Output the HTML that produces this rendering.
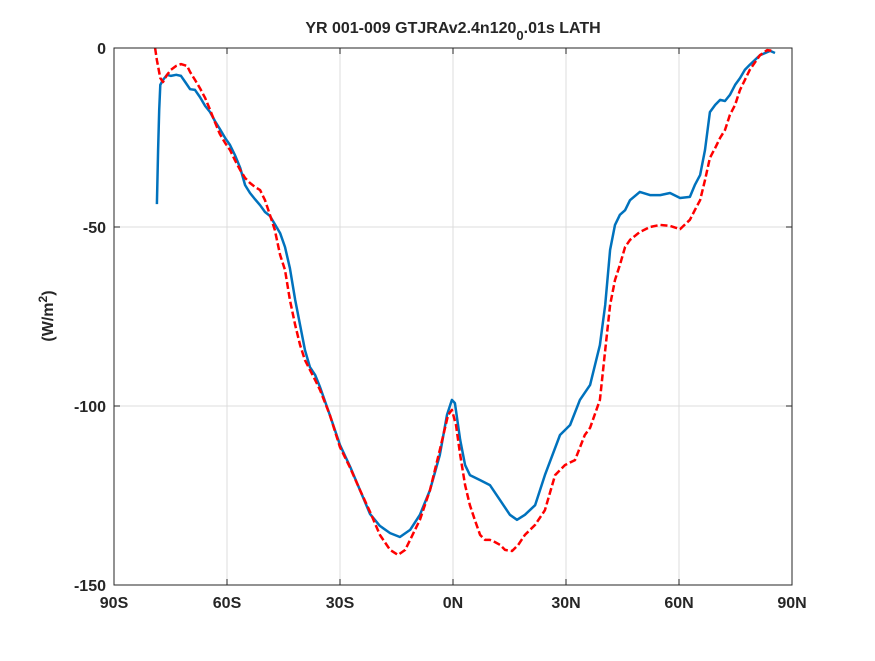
<!DOCTYPE html>
<html><head><meta charset="utf-8"><style>
body{margin:0;background:#fff;}
svg text{font-family:"Liberation Sans",sans-serif;font-weight:bold;fill:#262626;}
</style></head><body>
<svg width="875" height="656" viewBox="0 0 875 656" xmlns="http://www.w3.org/2000/svg">
<rect width="875" height="656" fill="#fff"/>
<g id="grid"></g>
<g id="series"></g>
<rect x="114" y="48" width="678" height="537" fill="none" stroke="#262626" stroke-width="1"/>
<g id="ticks"></g>
<text x="453" y="33" text-anchor="middle" font-size="16">YR 001-009 GTJRAv2.4n120<tspan dy="7" font-size="13">0</tspan><tspan dy="-7">.01s LATH</tspan></text>
<text transform="translate(53,316) rotate(-90)" text-anchor="middle" font-size="16">(W/m<tspan dy="-6" font-size="12">2</tspan><tspan dy="6">)</tspan></text>
</svg>
<script>
const xTicks=[-90,-60,-30,0,30,60,90];
const xTickLabels=["90S","60S","30S","0N","30N","60N","90N"];
const yTicks=[0,-50,-100,-150];
const yTickLabels=["0","-50","-100","-150"];
const blueLat=[-78.6,-78.3,-78.0,-77.7,-77.0,-75.9,-74.9,-73.5,-72.2,-71.1,-69.8,-68.5,-67.2,-65.8,-64.5,-63.2,-61.9,-60.5,-59.2,-57.9,-56.5,-55.2,-53.9,-52.6,-51.2,-49.9,-48.6,-47.3,-45.9,-44.6,-43.3,-41.9,-40.6,-39.3,-38.0,-36.6,-35.3,-32.7,-30.0,-27.3,-24.7,-22.0,-19.4,-16.7,-14.1,-11.4,-8.8,-6.1,-3.5,-1.6,-0.3,0.5,1.9,3.2,4.5,7.2,9.8,12.5,15.1,17.0,19.1,21.8,24.4,28.4,31.1,33.7,36.4,39.0,40.4,41.7,43.0,44.3,45.7,47.0,49.6,52.3,55.0,57.6,60.3,62.9,64.2,65.6,66.9,68.2,69.6,70.9,72.2,73.5,74.9,76.2,77.5,78.8,81.5,84.2,85.5];
const blueVal=[-43.6,-28.5,-17.3,-10.3,-8.9,-7.5,-7.8,-7.5,-7.8,-9.5,-11.5,-11.7,-13.7,-16.2,-17.9,-20.4,-22.6,-25.1,-27.1,-29.9,-33.5,-38.3,-40.5,-42.2,-43.9,-45.8,-46.9,-49.2,-51.7,-55.6,-61.5,-70.4,-77.4,-84.4,-89.1,-91.3,-94.7,-102.5,-110.9,-117.0,-123.5,-130.2,-133.5,-135.5,-136.6,-134.6,-130.4,-123.5,-113.7,-102.5,-98.3,-99.2,-109.5,-116.5,-119.3,-120.7,-122.1,-126.3,-130.4,-131.8,-130.4,-127.7,-119.3,-108.1,-105.3,-98.3,-94.1,-83.0,-71.8,-56.4,-49.4,-46.6,-45.3,-42.5,-40.2,-41.1,-41.1,-40.5,-41.9,-41.6,-38.3,-35.5,-28.5,-17.9,-15.9,-14.5,-14.8,-13.1,-10.3,-8.4,-6.1,-4.7,-2.0,-0.8,-1.4];
const redLat=[-79.1,-78.6,-77.7,-77.0,-75.9,-74.9,-73.5,-72.2,-70.6,-69.8,-68.5,-67.2,-65.8,-64.5,-63.2,-61.9,-60.5,-59.2,-57.9,-56.5,-55.2,-53.9,-52.6,-51.2,-49.9,-48.6,-47.3,-45.9,-44.6,-43.3,-41.9,-40.6,-39.3,-38.0,-36.6,-35.3,-32.7,-30.0,-27.3,-24.7,-22.0,-19.4,-16.7,-14.6,-12.7,-11.4,-8.8,-6.1,-3.5,-1.3,-0.3,0.8,1.9,3.2,4.5,5.8,7.2,8.5,9.8,11.1,12.5,13.8,15.7,17.3,19.1,21.8,24.4,27.1,29.7,32.4,35.0,36.4,39.0,40.4,41.7,43.0,44.3,45.7,47.0,49.6,52.3,55.0,57.6,60.3,62.9,64.2,65.6,66.9,68.2,69.6,70.9,72.2,73.5,74.9,76.2,77.5,78.8,81.5,83.4,85.0];
const redVal=[0,-3.4,-8.4,-9.5,-7.5,-6.1,-5.0,-4.5,-5.0,-6.7,-8.9,-11.2,-14.0,-17.3,-20.7,-24.0,-26.5,-28.5,-31.3,-34.1,-36.3,-37.7,-38.8,-39.7,-42.5,-46.6,-50.8,-57.8,-62.0,-70.4,-77.4,-83.0,-87.2,-89.9,-92.7,-95.5,-102.5,-111.5,-117.3,-123.5,-129.6,-136.0,-140.2,-141.6,-140.2,-137.4,-131.8,-123.5,-112.3,-102.5,-101.1,-105.3,-113.7,-122.1,-127.7,-131.8,-136.0,-137.4,-137.4,-138.0,-138.8,-140.2,-140.5,-138.8,-136.0,-133.2,-129.1,-119.3,-116.5,-115.1,-108.1,-106.1,-98.3,-84.4,-71.8,-64.8,-60.6,-55.6,-53.6,-51.4,-50.0,-49.4,-49.7,-50.6,-48.0,-45.3,-42.5,-36.9,-30.7,-27.9,-25.1,-22.9,-18.7,-15.9,-11.7,-8.9,-6.1,-2.0,-0.6,-0.8];

const L=114,R=792,T=48,B=585;
const xs=v=>L+(v+90)/180*(R-L);
const ys=v=>T+(0-v)/150*(B-T);
const NS="http://www.w3.org/2000/svg";
const grid=document.getElementById('grid'),ticks=document.getElementById('ticks'),series=document.getElementById('series');
function mk(tag,attrs,parent){const e=document.createElementNS(NS,tag);for(const k in attrs)e.setAttribute(k,attrs[k]);parent.appendChild(e);return e;}
xTicks.forEach((v,i)=>{
  const x=xs(v);
  const g=mk('line',{x1:x,x2:x,y1:T,y2:B,stroke:'#dcdcdc','stroke-width':1},grid);
  
  
  const t=mk('line',{x1:x,x2:x,y1:B,y2:B-6,stroke:'#262626'},ticks);
  
  
  const t2=mk('line',{x1:x,x2:x,y1:T,y2:T+6,stroke:'#262626'},ticks);
  
  
  const lb=mk('text',{x:x,y:B+23,'text-anchor':'middle','font-size':16},ticks);
  lb.textContent=xTickLabels[i];
  
  
});
yTicks.forEach((v,i)=>{
  const y=ys(v);
  const g=mk('line',{x1:L,x2:R,y1:y,y2:y,stroke:'#dcdcdc','stroke-width':1},grid);
  
  
  const t=mk('line',{x1:L,x2:L+6,y1:y,y2:y,stroke:'#262626'},ticks);
  
  
  const t2=mk('line',{x1:R,x2:R-6,y1:y,y2:y,stroke:'#262626'},ticks);
  
  
  const lb=mk('text',{x:L-8,y:y+6,'text-anchor':'end','font-size':16},ticks);
  lb.textContent=yTickLabels[i];
  
  
});
function pts(lat,val){return lat.map((v,i)=>xs(v).toFixed(1)+','+ys(val[i]).toFixed(1)).join(' ');}
const blue=mk('polyline',{points:pts(blueLat,blueVal),fill:'none',stroke:'#0072BD','stroke-width':2.5,'stroke-linejoin':'round'},series);


const red=mk('polyline',{points:pts(redLat,redVal),fill:'none',stroke:'#FF0000','stroke-width':2.5,'stroke-dasharray':'7,3','stroke-linejoin':'round'},series);


</script>
</body></html>
